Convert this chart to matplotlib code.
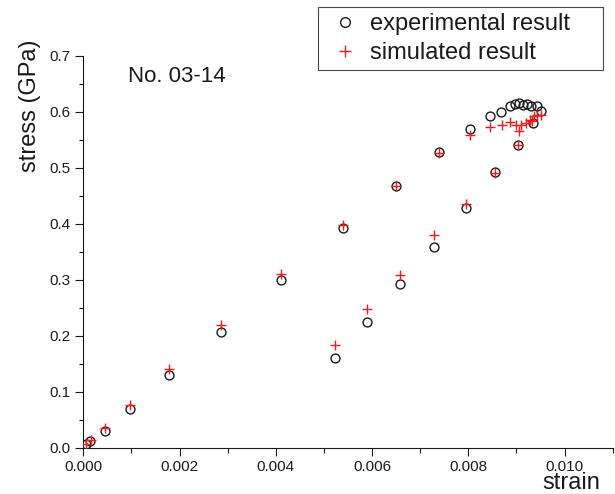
import matplotlib
matplotlib.use("Agg")
import matplotlib.pyplot as plt
from matplotlib.ticker import MultipleLocator, FormatStrFormatter
from matplotlib.lines import Line2D

plt.rcParams['font.family'] = ['Liberation Sans', 'DejaVu Sans']

# strain (dimensionless) and stress (GPa) -- loading branch, peak cluster, unloading branch
exp_strain = [0.00005, 0.00014, 0.00045, 0.00097, 0.00179, 0.00286, 0.00411, 0.00539,
              0.00649, 0.00739, 0.00803, 0.00845, 0.00867, 0.00886, 0.00898, 0.00906,
              0.00914, 0.00922, 0.00931, 0.00942, 0.00951, 0.00935, 0.00903, 0.00855,
              0.00795, 0.00728, 0.00658, 0.00589, 0.00523]
exp_stress = [0.006, 0.0125, 0.030, 0.070, 0.130, 0.2065, 0.300, 0.393,
              0.468, 0.528, 0.570, 0.592, 0.600, 0.610, 0.614, 0.615,
              0.612, 0.613, 0.611, 0.610, 0.601, 0.579, 0.541, 0.492,
              0.428, 0.358, 0.292, 0.2245, 0.161]

sim_strain = [0.00005, 0.00016, 0.00045, 0.00097, 0.00179, 0.00286, 0.00411, 0.00539,
              0.00649, 0.00739, 0.00804, 0.00846, 0.00869, 0.00886, 0.00899, 0.00906,
              0.00910, 0.00919, 0.00928, 0.00933, 0.00936, 0.00943, 0.00952, 0.00903,
              0.00855, 0.00795, 0.00728, 0.00658, 0.00589, 0.00523]
sim_stress = [0.006, 0.0145, 0.035, 0.077, 0.140, 0.2197, 0.310, 0.398,
              0.467, 0.527, 0.558, 0.573, 0.577, 0.582, 0.577, 0.566,
              0.576, 0.580, 0.585, 0.583, 0.592, 0.595, 0.595, 0.541,
              0.490, 0.436, 0.379, 0.309, 0.247, 0.184]

x_ticks = [0.000, 0.002, 0.004, 0.006, 0.008, 0.010]
y_ticks = [0.0, 0.1, 0.2, 0.3, 0.4, 0.5, 0.6, 0.7]

ink = '#1a1a1a'
red = '#ee1c1c'

fig = plt.figure(figsize=(6.15, 4.94), dpi=100)
ax = fig.add_axes([0.1354, 0.0937, 0.8609, 0.7935])

ax.plot(exp_strain, exp_stress, linestyle='none', marker='o', markersize=6.4,
        markerfacecolor='none', markeredgecolor=ink, markeredgewidth=1.0, zorder=3)
ax.plot(sim_strain, sim_stress, linestyle='none', marker='+', markersize=7.0,
        markeredgecolor=red, markeredgewidth=1.0, zorder=4)

ax.set_xlim(0, 0.011)
ax.set_ylim(0, 0.7)
ax.set_xticks(x_ticks)
ax.set_yticks(y_ticks)
ax.xaxis.set_major_formatter(FormatStrFormatter('%.3f'))
ax.yaxis.set_major_formatter(FormatStrFormatter('%.1f'))
ax.xaxis.set_minor_locator(MultipleLocator(0.001))
ax.yaxis.set_minor_locator(MultipleLocator(0.05))

for side in ('top', 'right'):
    ax.spines[side].set_visible(False)
for side in ('left', 'bottom'):
    ax.spines[side].set_linewidth(0.8)
    ax.spines[side].set_color(ink)

ax.tick_params(axis='both', which='major', direction='out', length=5.5, width=0.8,
               colors=ink, labelsize=11)
ax.tick_params(axis='x', which='minor', direction='out', length=3.6, width=0.8, colors=ink)
ax.tick_params(axis='y', which='minor', direction='out', length=3.0, width=0.8, colors=ink)
ax.tick_params(axis='x', which='major', pad=3)
ax.tick_params(axis='y', which='major', pad=4)

ax.set_xlabel('strain', fontsize=17, color=ink)
ax.xaxis.label.set_va('baseline')
ax.xaxis.set_label_coords(0.921, -0.106)

ax.set_ylabel('stress (GPa)', fontsize=17, color=ink)
ax.yaxis.label.set_va('center')
ax.yaxis.set_label_coords(-0.101, 0.872)

ax.text(0.0852, 0.934, 'No. 03-14', transform=ax.transAxes, fontsize=16,
        color=ink, ha='left', va='baseline')

handles = [
    Line2D([], [], linestyle='none', marker='o', markersize=7, markerfacecolor='none',
           markeredgecolor=ink, markeredgewidth=1.0),
    Line2D([], [], linestyle='none', marker='+', markersize=8, markeredgecolor=red,
           markeredgewidth=1.0),
]
leg = fig.legend(handles, ['experimental result', 'simulated result'],
                 loc='upper left',
                 bbox_to_anchor=(318 / 615, 1 - 70.7 / 494, 285 / 615, 63.4 / 494),
                 bbox_transform=fig.transFigure, mode='expand', borderaxespad=0,
                 fontsize=17, frameon=True, fancybox=False, borderpad=0.25,
                 labelspacing=0.3, handlelength=1.75, handletextpad=0.2)
leg.get_frame().set_edgecolor(ink)
leg.get_frame().set_linewidth(0.8)
for t in leg.get_texts():
    t.set_color(ink)

fig.savefig('out.png', dpi=100)
